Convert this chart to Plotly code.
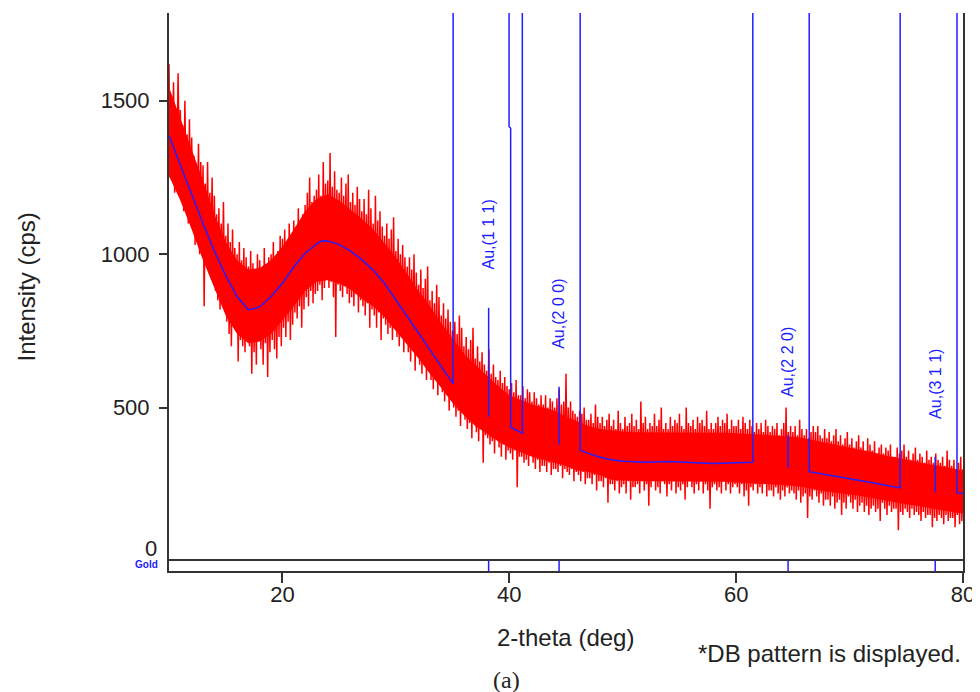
import plotly.graph_objects as go

# ---------------- data ----------------
two_theta_start = 10.0
two_theta_step = 0.1

intensity = [
    1620, 1250, 1500, 1300, 1560, 1200, 1450, 1270, 1590, 1330,   # 10
    1470, 1180, 1420, 1140, 1500, 1210, 1390, 1100, 1440, 1160,   # 11
    1380, 1080, 1320, 1030, 1290, 1100, 1360, 1000, 1300, 1070,   # 12
    1290, 830, 1230, 980, 1300, 950, 1200, 1000, 1250, 960,       # 13
    1190, 880, 1130, 850, 1150, 820, 1100, 900, 1170, 860,        # 14
    1060, 780, 1100, 740, 1040, 700, 1080, 800, 1020, 760,        # 15
    1000, 650, 1040, 720, 980, 700, 1020, 680, 990, 740,          # 16
    960, 700, 1010, 610, 970, 680, 940, 640, 1000, 720,           # 17
    980, 690, 950, 640, 1020, 710, 960, 600, 990, 680,            # 18
    1000, 720, 1040, 690, 980, 660, 1010, 730, 1060, 700,         # 19
    1050, 760, 1080, 730, 1030, 780, 1100, 720, 1060, 770,        # 20
    1110, 810, 1090, 790, 1150, 830, 1100, 760, 1130, 820,        # 21
    1160, 860, 1200, 830, 1250, 880, 1170, 840, 1190, 870,        # 22
    1210, 880, 1260, 900, 1190, 850, 1300, 890, 1230, 920,        # 23
    1240, 890, 1330, 910, 1220, 860, 1270, 730, 1210, 900,        # 24
    1200, 880, 1250, 860, 1190, 900, 1230, 870, 1260, 840,        # 25
    1170, 860, 1200, 830, 1160, 870, 1220, 810, 1180, 850,        # 26
    1140, 830, 1180, 800, 1130, 840, 1210, 760, 1150, 820,        # 27
    1100, 800, 1190, 760, 1110, 810, 1140, 720, 1090, 790,        # 28
    1060, 770, 1100, 740, 1050, 760, 1080, 720, 1120, 780,        # 29
    1010, 730, 1050, 700, 1000, 740, 1030, 680, 990, 720,         # 30
    960, 680, 990, 650, 950, 690, 1000, 620, 940, 670,            # 31
    900, 640, 950, 610, 890, 650, 920, 590, 960, 630,             # 32
    850, 590, 880, 560, 840, 600, 900, 540, 860, 580,             # 33
    800, 550, 840, 520, 790, 540, 820, 490, 780, 560,             # 34
    750, 500, 780, 470, 740, 490, 800, 440, 760, 510,             # 35
    700, 460, 730, 430, 690, 450, 720, 400, 760, 470,             # 36
    660, 420, 700, 390, 650, 430, 680, 320, 640, 410,             # 37
    620, 400, 690, 380, 610, 390, 640, 350, 600, 410,             # 38
    590, 370, 620, 340, 580, 380, 600, 330, 570, 360,             # 39
    560, 350, 580, 330, 550, 360, 590, 240, 540, 340,             # 40
    540, 340, 570, 320, 530, 330, 560, 310, 550, 350,             # 41
    520, 320, 550, 300, 530, 330, 510, 290, 540, 310,             # 42
    510, 310, 540, 290, 500, 320, 530, 280, 520, 300,             # 43
    500, 300, 530, 290, 560, 310, 510, 270, 520, 300,             # 44
    610, 290, 500, 280, 520, 300, 490, 260, 480, 290,             # 45
    470, 280, 490, 260, 480, 290, 500, 250, 460, 270,             # 46
    460, 270, 480, 250, 450, 280, 510, 230, 470, 260,             # 47
    450, 260, 470, 240, 440, 270, 460, 190, 480, 250,             # 48
    440, 250, 460, 230, 430, 260, 490, 220, 450, 240,             # 49
    430, 250, 470, 220, 440, 260, 450, 200, 480, 240,             # 50
    440, 240, 460, 250, 430, 220, 520, 260, 450, 230,             # 51
    470, 250, 430, 180, 450, 240, 440, 260, 480, 230,             # 52
    440, 240, 460, 220, 500, 260, 430, 250, 450, 210,             # 53
    430, 250, 470, 230, 440, 260, 460, 220, 450, 240,             # 54
    480, 230, 440, 250, 430, 200, 500, 240, 450, 260,             # 55
    440, 240, 460, 220, 430, 250, 470, 230, 450, 260,             # 56
    460, 220, 440, 250, 490, 230, 430, 170, 450, 240,             # 57
    430, 250, 450, 230, 470, 240, 440, 220, 460, 260,             # 58
    450, 230, 480, 250, 430, 220, 460, 240, 440, 250,             # 59
    440, 240, 460, 220, 430, 250, 470, 210, 450, 230,             # 60
    430, 180, 460, 240, 440, 230, 420, 250, 450, 220,             # 61
    430, 240, 450, 220, 420, 250, 460, 210, 440, 230,             # 62
    420, 230, 440, 210, 430, 240, 450, 220, 410, 200,             # 63
    430, 230, 450, 210, 500, 240, 420, 220, 440, 230,             # 64
    420, 220, 440, 200, 410, 230, 460, 190, 430, 210,             # 65
    410, 220, 430, 140, 400, 210, 420, 200, 440, 230,             # 66
    420, 210, 440, 190, 410, 220, 400, 180, 430, 200,             # 67
    400, 200, 420, 180, 390, 210, 410, 170, 430, 190,             # 68
    390, 200, 410, 150, 380, 190, 400, 170, 420, 210,             # 69
    380, 190, 400, 170, 370, 200, 390, 160, 410, 180,             # 70
    370, 190, 390, 160, 360, 180, 400, 150, 380, 170,             # 71
    360, 180, 390, 160, 350, 170, 370, 130, 380, 190,             # 72
    350, 170, 370, 150, 360, 180, 380, 160, 340, 170,             # 73
    340, 170, 370, 100, 350, 160, 360, 150, 380, 170,             # 74
    340, 160, 360, 140, 330, 170, 350, 150, 370, 160,             # 75
    330, 150, 350, 130, 340, 160, 320, 140, 360, 150,             # 76
    330, 150, 340, 110, 320, 140, 350, 130, 330, 150,             # 77
    320, 140, 340, 120, 310, 150, 360, 130, 330, 140,             # 78
    310, 140, 330, 110, 300, 150, 320, 120, 340, 130,             # 79
    300,
]
two_theta = [round(two_theta_start + i * two_theta_step, 2) for i in range(len(intensity))]

# dense (solid) part of the noisy pattern, read every 1 deg from 10 to 80
core_two_theta = list(range(10, 81))
core_low = [1255, 1175, 1080, 980, 890, 800, 740, 710, 715, 740,
            785, 830, 880, 910, 915, 905, 885, 855, 830, 795,
            750, 705, 660, 610, 565, 515, 475, 440, 415, 390,
            370, 355, 340, 330, 320, 310, 295, 290, 280, 265,
            262, 260, 260, 260, 260, 260, 260, 260, 260, 258,
            256, 255, 252, 250, 248, 245, 240, 232, 226, 222,
            218, 212, 205, 198, 190, 185, 180, 172, 166, 160,
            155]
core_high = [1545, 1445, 1340, 1240, 1130, 1040, 980, 950, 955, 980,
             1025, 1080, 1140, 1180, 1195, 1175, 1145, 1115, 1080, 1035,
             990, 935, 880, 830, 775, 725, 675, 640, 605, 570,
             540, 525, 510, 500, 490, 470, 455, 440, 430, 425,
             422, 420, 420, 420, 420, 420, 420, 418, 418, 418,
             416, 415, 412, 410, 408, 405, 400, 392, 385, 378,
             370, 362, 355, 345, 338, 330, 322, 315, 310, 302,
             295]

# background / fit line (values above the top of the axis leave the frame)
bg_two_theta = [10, 11, 12, 13, 14, 15, 16, 17, 18, 19, 20, 21, 22, 23, 23.5, 24, 25, 26,
                27, 28, 29, 30, 31, 32, 33, 34, 35.05, 35.05, 39.98, 39.98, 40.12, 40.12,
                41.15, 41.15, 46.25, 46.25, 47, 48, 49, 50, 52, 54, 56, 58, 60, 61.47,
                61.47, 66.44, 66.44, 68, 70, 72, 74, 74.46, 74.46, 79.47, 79.47, 80]
bg_intensity = [1386, 1290, 1195, 1100, 1010, 930, 862, 818, 828, 862, 905, 958, 1003, 1033,
                1044, 1043, 1031, 1010, 982, 948, 905, 852, 798, 743, 688, 633, 578, 3000,
                3000, 1416, 1410, 436, 416, 3000, 3000, 361, 350, 338, 330, 325, 322, 324,
                321, 318, 320, 322, 3000, 3000, 291, 280, 268, 255, 242, 238, 3000, 3000,
                222, 220]

# DB pattern (Gold)
db_labels = ["Au,(1 1 1)", "Au,(2 0 0)", "Au,(2 2 0)", "Au,(3 1 1)"]
db_two_theta = [38.18, 44.39, 64.58, 77.55]
db_low = [470, 380, 304, 224]
db_high = [825, 568, 411, 340]

y_ticks = [500, 1000, 1500]
x_ticks = [20, 40, 60, 80]

# ---------------- figure ----------------
RED = "#ff0000"
BLUE = "#2020ff"
AXC = "#333333"
TXT = "#222222"
FONT = "Liberation Sans, Arial, sans-serif"

fig = go.Figure()

fig.add_trace(go.Scatter(x=core_two_theta, y=core_low, mode="lines",
                         line=dict(color=RED, width=0), xaxis="x", yaxis="y",
                         hoverinfo="skip", showlegend=False))
fig.add_trace(go.Scatter(x=core_two_theta, y=core_high, mode="lines",
                         line=dict(color=RED, width=0), fill="tonexty", fillcolor=RED,
                         xaxis="x", yaxis="y", hoverinfo="skip", showlegend=False))

fig.add_trace(go.Scatter(x=two_theta, y=intensity, mode="lines",
                         line=dict(color=RED, width=1.5), xaxis="x", yaxis="y",
                         hoverinfo="skip", showlegend=False))

fig.add_trace(go.Scatter(x=bg_two_theta, y=bg_intensity, mode="lines",
                         line=dict(color=BLUE, width=1.5),
                         xaxis="x", yaxis="y", hoverinfo="skip", showlegend=False))

stick_x, stick_y, strip_x, strip_y = [], [], [], []
for p, lo, hi in zip(db_two_theta, db_low, db_high):
    stick_x += [p, p, None]
    stick_y += [lo, hi, None]
    strip_x += [p, p, None]
    strip_y += [0, 1, None]

fig.add_trace(go.Scatter(x=stick_x, y=stick_y, mode="lines",
                         line=dict(color=BLUE, width=1.5), xaxis="x", yaxis="y",
                         hoverinfo="skip", showlegend=False))
fig.add_trace(go.Scatter(x=strip_x, y=strip_y, mode="lines",
                         line=dict(color=BLUE, width=1.5), xaxis="x", yaxis="y2",
                         hoverinfo="skip", showlegend=False))

annotations = []
for lab, p, hi in zip(db_labels, db_two_theta, db_high):
    annotations.append(dict(x=p, y=hi, xref="x", yref="y", text=lab, textangle=-90,
                            showarrow=False, xanchor="center", yanchor="bottom", yshift=36,
                            font=dict(family=FONT, size=16, color=BLUE)))

annotations += [
    dict(x=-0.1794, y=0.509, xref="paper", yref="paper", text="Intensity (cps)",
         textangle=-90, showarrow=False, xanchor="center", yanchor="middle",
         font=dict(family=FONT, size=24, color=TXT)),
    dict(x=0.499, y=-0.120, xref="paper", yref="paper", text="2-theta (deg)",
         showarrow=False, xanchor="center", yanchor="middle",
         font=dict(family=FONT, size=24, color=TXT)),
    dict(x=0.8315, y=-0.147, xref="paper", yref="paper", text="*DB pattern is displayed.",
         showarrow=False, xanchor="center", yanchor="middle",
         font=dict(family=FONT, size=24, color=TXT)),
    dict(x=0.4253, y=-0.196, xref="paper", yref="paper", text="(a)",
         showarrow=False, xanchor="center", yanchor="middle",
         font=dict(family="Liberation Serif, Times New Roman, serif", size=24, color=TXT)),
    dict(x=-0.0226, y=0.0403, xref="paper", yref="paper", text="0",
         showarrow=False, xanchor="center", yanchor="middle",
         font=dict(family=FONT, size=22, color=TXT)),
    dict(x=-0.0289, y=0.0125, xref="paper", yref="paper", text="<b>Gold</b>",
         showarrow=False, xanchor="center", yanchor="middle",
         font=dict(family=FONT, size=10, color=BLUE)),
]

strip_frac = 10 / 558

# the page body adds an 8 px offset; size/margins compensate so the frame
# lands at x 169..966, y 13..571 in the 980x692 window
fig.update_layout(
    width=972, height=684,
    margin=dict(l=161, r=14, t=5, b=121),
    paper_bgcolor="white", plot_bgcolor="white",
    showlegend=False,
    annotations=annotations,
    xaxis=dict(domain=[0, 1], anchor="y2", range=[10, 80], tickvals=x_ticks,
               ticks="outside", ticklen=10, tickwidth=2, tickcolor=AXC,
               showline=True, linecolor=AXC, linewidth=2, mirror=True,
               showgrid=False, zeroline=False, ticklabelstandoff=-7,
               tickfont=dict(family=FONT, size=22, color=TXT)),
    xaxis2=dict(matches="x", anchor="y", overlaying="x", showline=True, mirror=True,
                linecolor=AXC, linewidth=2, showticklabels=False, ticks="",
                showgrid=False, zeroline=False),
    yaxis=dict(domain=[strip_frac, 1], range=[0, 1786], tickvals=y_ticks,
               ticks="outside", ticklen=8, tickwidth=2, tickcolor=AXC,
               showline=True, linecolor=AXC, linewidth=2, mirror=True,
               showgrid=False, zeroline=False, ticklabelstandoff=5,
               tickfont=dict(family=FONT, size=22, color=TXT)),
    yaxis2=dict(domain=[0, strip_frac], range=[0, 1], showline=True, mirror=True,
                linecolor=AXC, linewidth=2, showticklabels=False, ticks="",
                showgrid=False, zeroline=False),
)

fig.write_html("out.html")
